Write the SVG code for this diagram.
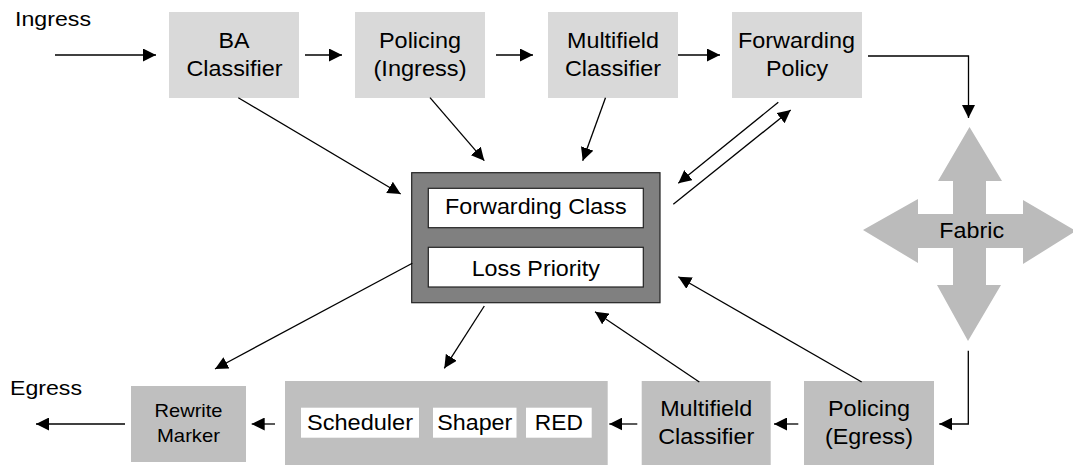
<svg xmlns="http://www.w3.org/2000/svg" width="1073" height="465" viewBox="0 0 1073 465">
<style>
text{font-family:"Liberation Sans",Arial,Helvetica,sans-serif;font-size:22px;fill:#000;text-anchor:middle}
.lbl{text-anchor:start;font-size:20px}
.small{font-size:18.5px}
.top{fill:#d9d9d9}
.bot{fill:#bfbfbf}
.wb{fill:#fff}
.cb{fill:#fff;stroke:#222;stroke-width:1.2}
.core{fill:#808080;stroke:#222;stroke-width:1.2}
.fab{fill:#bbbbbb}
.c line,.c polyline{stroke:#000;stroke-width:1.3;fill:none;marker-end:url(#ah)}
</style>
<defs>
<marker id="ah" markerUnits="userSpaceOnUse" markerWidth="14" markerHeight="13" refX="13" refY="6.5" orient="auto" viewBox="0 0 14 13">
<path d="M0,0 L13,6.5 L0,13 z" fill="#000"/>
</marker>
</defs>

<text class="lbl" x="15" y="26" textLength="76" lengthAdjust="spacingAndGlyphs">Ingress</text>
<text class="lbl" x="10" y="395" textLength="72" lengthAdjust="spacingAndGlyphs">Egress</text>

<g id="ba-classifier">
<rect class="top" x="169" y="12" width="130" height="86"/>
<text x="234" y="48" textLength="31" lengthAdjust="spacingAndGlyphs">BA</text>
<text x="234.5" y="76" textLength="96" lengthAdjust="spacingAndGlyphs">Classifier</text>
</g>
<g id="policing-ingress">
<rect class="top" x="355" y="12" width="130" height="86"/>
<text x="420" y="48" textLength="82" lengthAdjust="spacingAndGlyphs">Policing</text>
<text x="420" y="76" textLength="93" lengthAdjust="spacingAndGlyphs">(Ingress)</text>
</g>
<g id="multifield-ingress">
<rect class="top" x="548" y="12" width="130" height="86"/>
<text x="613" y="48" textLength="92" lengthAdjust="spacingAndGlyphs">Multifield</text>
<text x="613" y="76" textLength="96" lengthAdjust="spacingAndGlyphs">Classifier</text>
</g>
<g id="forwarding-policy">
<rect class="top" x="732" y="12" width="130" height="86"/>
<text x="796.5" y="48" textLength="117" lengthAdjust="spacingAndGlyphs">Forwarding</text>
<text x="797" y="76" textLength="62" lengthAdjust="spacingAndGlyphs">Policy</text>
</g>

<g id="core">
<rect class="core" x="411.7" y="172.7" width="248.3" height="130"/>
<rect class="cb" x="428.3" y="188.3" width="215" height="39.4"/>
<text x="535.8" y="213.5" textLength="181.5" lengthAdjust="spacingAndGlyphs">Forwarding Class</text>
<rect class="cb" x="428.3" y="247.3" width="215" height="39.7"/>
<text x="535.8" y="276" textLength="128.3" lengthAdjust="spacingAndGlyphs">Loss Priority</text>
</g>

<g id="fabric">
<polygon class="fab" points="969.5,127 1002,181 986,181 986,214 1023,214 1023,200 1076,231 1023,264 1023,248 986,248 986,285 1001,285 968,341 937,285 953,285 953,248 918,248 918,263 863,230 918,199 918,214 953,214 953,181 938,181"/>
<text x="971.7" y="237.7" textLength="64.7" lengthAdjust="spacingAndGlyphs">Fabric</text>
</g>

<g id="rewrite-marker">
<rect class="bot" x="131" y="386" width="115" height="76"/>
<text class="small" x="188.5" y="417.3" textLength="68" lengthAdjust="spacingAndGlyphs">Rewrite</text>
<text class="small" x="188.5" y="441.7" textLength="63" lengthAdjust="spacingAndGlyphs">Marker</text>
</g>
<g id="queueing">
<rect class="bot" x="285" y="381" width="322.7" height="84"/>
<rect class="wb" x="301" y="407.7" width="118" height="30"/>
<text x="360" y="429.5" textLength="106" lengthAdjust="spacingAndGlyphs">Scheduler</text>
<rect class="wb" x="433" y="407.7" width="83.5" height="30"/>
<text x="474.8" y="429.5" textLength="75" lengthAdjust="spacingAndGlyphs">Shaper</text>
<rect class="wb" x="526" y="407.7" width="65.7" height="30"/>
<text x="558.8" y="429.5" textLength="48" lengthAdjust="spacingAndGlyphs">RED</text>
</g>
<g id="multifield-egress">
<rect class="bot" x="641.7" y="381" width="129" height="84"/>
<text x="706.2" y="416" textLength="92" lengthAdjust="spacingAndGlyphs">Multifield</text>
<text x="706.2" y="444" textLength="96" lengthAdjust="spacingAndGlyphs">Classifier</text>
</g>
<g id="policing-egress">
<rect class="bot" x="804" y="381" width="130" height="84"/>
<text x="869" y="416" textLength="82" lengthAdjust="spacingAndGlyphs">Policing</text>
<text x="869" y="444" textLength="88" lengthAdjust="spacingAndGlyphs">(Egress)</text>
</g>

<g id="connectors" class="c">
<line x1="55" y1="55" x2="156" y2="55"/>
<line x1="305" y1="55" x2="342" y2="55"/>
<line x1="496" y1="55" x2="533" y2="55"/>
<line x1="678" y1="55" x2="720" y2="55"/>
<polyline points="868,56 968.5,56 968.5,118"/>
<line x1="238.3" y1="97.7" x2="400.7" y2="194"/>
<line x1="430" y1="97.7" x2="484.3" y2="160.7"/>
<line x1="605.5" y1="97.7" x2="582.7" y2="160.7"/>
<line x1="778.3" y1="102.3" x2="678.3" y2="183.3"/>
<line x1="673.3" y1="204.3" x2="790.7" y2="110"/>
<line x1="412.3" y1="263.3" x2="215" y2="369"/>
<line x1="484.3" y1="306" x2="444.3" y2="368.3"/>
<line x1="699.3" y1="382" x2="595" y2="311.7"/>
<line x1="861.7" y1="382" x2="678.3" y2="276.7"/>
<polyline points="968.3,350.7 968.3,424 939.3,424"/>
<line x1="798.3" y1="424" x2="774" y2="424"/>
<line x1="637.3" y1="424" x2="609.3" y2="424"/>
<line x1="275" y1="424" x2="251.7" y2="424"/>
<line x1="125" y1="424" x2="36" y2="424"/>
</g>
</svg>
